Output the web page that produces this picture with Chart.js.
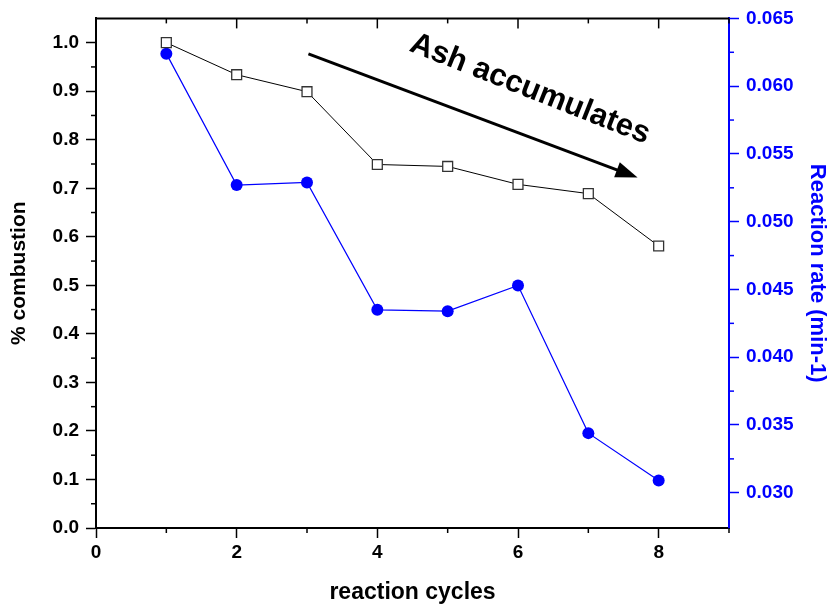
<!DOCTYPE html>
<html>
<head>
<meta charset="utf-8">
<script src="https://cdn.jsdelivr.net/npm/chart.js@4.4.0/dist/chart.umd.min.js"></script>
<style>
  html, body { margin: 0; padding: 0; background: #fff; }
</style>
</head>
<body>
<canvas id="myChart" width="831" height="607"></canvas>
<script>
// data
var cycles = [1, 2, 3, 4, 5, 6, 7, 8];
var combustion = [1.000, 0.934, 0.899, 0.749, 0.745, 0.708, 0.689, 0.581];
var reactionRate = [0.0624, 0.0527, 0.0529, 0.0435, 0.0434, 0.0453, 0.0344, 0.0309];

// tick values
var xTicks = [0, 2, 4, 6, 8];
var xMinorTicks = [1, 3, 5, 7, 9];
var leftTicks = [0, 0.1, 0.2, 0.3, 0.4, 0.5, 0.6, 0.7, 0.8, 0.9, 1.0];
var leftMinorTicks = [0.05, 0.15, 0.25, 0.35, 0.45, 0.55, 0.65, 0.75, 0.85, 0.95];
var rightTicks = [0.030, 0.035, 0.040, 0.045, 0.050, 0.055, 0.060, 0.065];
var rightMinorTicks = [0.0325, 0.0375, 0.0425, 0.0475, 0.0525, 0.0575, 0.0625];

// annotation, in data units (x, left axis)
var arrowFrom = [3.02, 0.977];
var arrowTo = [7.70, 0.722];
var labelAt = [6.17, 0.904];
var labelText = 'Ash accumulates';

var FONT = '"Liberation Sans", Arial, sans-serif';
var BLUE = '#0000ff';

function toPoints(xs, ys) {
  var pts = [];
  for (var i = 0; i < xs.length; i++) pts.push({ x: xs[i], y: ys[i] });
  return pts;
}

function setTicks(values) {
  return function (scale) {
    scale.ticks = values.map(function (v) { return { value: v }; });
  };
}

// top frame, minor ticks and the arrow with its label
var extrasPlugin = {
  id: 'extras',
  afterDraw: function (chart) {
    var ctx = chart.ctx, a = chart.chartArea;
    var sx = chart.scales.x, sy = chart.scales.y, sr = chart.scales.y1;
    ctx.save();

    ctx.strokeStyle = '#000';
    ctx.lineWidth = 2;
    ctx.beginPath();
    ctx.moveTo(a.left - 1, a.top);
    ctx.lineTo(a.right, a.top);
    ctx.stroke();

    function line(x1, y1, x2, y2) {
      ctx.beginPath(); ctx.moveTo(x1, y1); ctx.lineTo(x2, y2); ctx.stroke();
    }

    ctx.lineWidth = 1.5;
    // top axis ticks point inward
    xTicks.forEach(function (v) { var px = sx.getPixelForValue(v); line(px, a.top, px, a.top + 10); });
    xMinorTicks.forEach(function (v) { var px = sx.getPixelForValue(v); line(px, a.top, px, a.top + 5); });
    // minor ticks bottom / left
    xMinorTicks.forEach(function (v) { var px = sx.getPixelForValue(v); line(px, a.bottom, px, a.bottom + 5); });
    leftMinorTicks.forEach(function (v) { var py = sy.getPixelForValue(v); line(a.left, py, a.left - 5, py); });
    // minor ticks right
    ctx.strokeStyle = BLUE;
    rightMinorTicks.forEach(function (v) { var py = sr.getPixelForValue(v); line(a.right, py, a.right + 5, py); });

    // arrow
    var x1 = sx.getPixelForValue(arrowFrom[0]), y1 = sy.getPixelForValue(arrowFrom[1]);
    var x2 = sx.getPixelForValue(arrowTo[0]), y2 = sy.getPixelForValue(arrowTo[1]);
    var ang = Math.atan2(y2 - y1, x2 - x1);
    var headLen = 22, headHalf = 8;
    var bx = x2 - headLen * Math.cos(ang), by = y2 - headLen * Math.sin(ang);
    ctx.strokeStyle = '#000';
    ctx.fillStyle = '#000';
    ctx.lineWidth = 3;
    line(x1, y1, bx + 2 * Math.cos(ang), by + 2 * Math.sin(ang));
    ctx.beginPath();
    ctx.moveTo(x2, y2);
    ctx.lineTo(bx - headHalf * Math.sin(ang), by + headHalf * Math.cos(ang));
    ctx.lineTo(bx + headHalf * Math.sin(ang), by - headHalf * Math.cos(ang));
    ctx.closePath();
    ctx.fill();

    // rotated label
    var lx = sx.getPixelForValue(labelAt[0]), ly = sy.getPixelForValue(labelAt[1]);
    ctx.translate(lx, ly);
    ctx.rotate(21.5 * Math.PI / 180);
    ctx.font = 'bold 31px ' + FONT;
    ctx.textAlign = 'center';
    ctx.textBaseline = 'middle';
    ctx.fillText(labelText, 0, 0);

    ctx.restore();
  }
};

var ctx = document.getElementById('myChart');
var myChart = new Chart(ctx, {
  type: 'line',
  data: {
    datasets: [
      {
        label: '% combustion',
        data: toPoints(cycles, combustion),
        yAxisID: 'y',
        borderColor: '#000',
        borderWidth: 1,
        backgroundColor: '#fff',
        pointStyle: 'rect',
        pointRadius: 7,
        pointBorderColor: '#333',
        pointBorderWidth: 1.3,
        pointBackgroundColor: '#fff',
        fill: false,
        order: 1
      },
      {
        label: 'Reaction rate',
        data: toPoints(cycles, reactionRate),
        yAxisID: 'y1',
        borderColor: BLUE,
        borderWidth: 1.2,
        pointStyle: 'circle',
        pointRadius: 6,
        pointBorderWidth: 0,
        pointBackgroundColor: BLUE,
        fill: false,
        order: 2
      }
    ]
  },
  options: {
    responsive: false,
    animation: false,
    devicePixelRatio: 1,
    layout: { padding: { top: 17, left: 0, right: 0, bottom: 0 } },
    plugins: {
      legend: { display: false },
      tooltip: { enabled: false }
    },
    scales: {
      x: {
        type: 'linear',
        position: 'bottom',
        min: 0,
        max: 9,
        afterBuildTicks: setTicks(xTicks),
        afterFit: function (s) { s.height = 79; },
        grid: { drawOnChartArea: false, tickLength: 10, tickWidth: 1.5, tickColor: '#000' },
        border: { color: '#000', width: 2 },
        ticks: {
          color: '#000',
          font: { family: FONT, size: 19, weight: 'bold' },
          padding: 3,
          maxRotation: 0,
          autoSkip: false,
          callback: function (v) { return String(v); }
        },
        title: {
          display: true,
          text: 'reaction cycles',
          color: '#000',
          font: { family: FONT, size: 23, weight: 'bold' },
          padding: { top: 0, bottom: 1 }
        }
      },
      y: {
        position: 'left',
        min: 0,
        max: 1.05,
        afterBuildTicks: setTicks(leftTicks),
        afterFit: function (s) { s.width = 96; },
        grid: { drawOnChartArea: false, tickLength: 10, tickWidth: 1.5, tickColor: '#000' },
        border: { color: '#000', width: 2 },
        ticks: {
          color: '#000',
          font: { family: FONT, size: 19, weight: 'bold' },
          padding: 7,
          callback: function (v) { return Number(v).toFixed(1); }
        },
        title: {
          display: true,
          text: '% combustion',
          color: '#000',
          font: { family: FONT, size: 21, weight: 'bold' },
          padding: { top: 7, bottom: 0 }
        }
      },
      y1: {
        position: 'right',
        min: 0.0274,
        max: 0.065,
        afterBuildTicks: setTicks(rightTicks),
        afterFit: function (s) { s.width = 102; },
        grid: { drawOnChartArea: false, tickLength: 10, tickWidth: 1.5, tickColor: BLUE },
        border: { color: BLUE, width: 2 },
        ticks: {
          color: BLUE,
          font: { family: FONT, size: 19, weight: 'bold' },
          padding: 7,
          callback: function (v) { return Number(v).toFixed(3); }
        },
        title: {
          display: true,
          text: 'Reaction rate (min-1)',
          color: BLUE,
          font: { family: FONT, size: 22, weight: 'bold' },
          padding: { top: 1, bottom: 0 }
        }
      }
    }
  },
  plugins: [extrasPlugin]
});
</script>
</body>
</html>
